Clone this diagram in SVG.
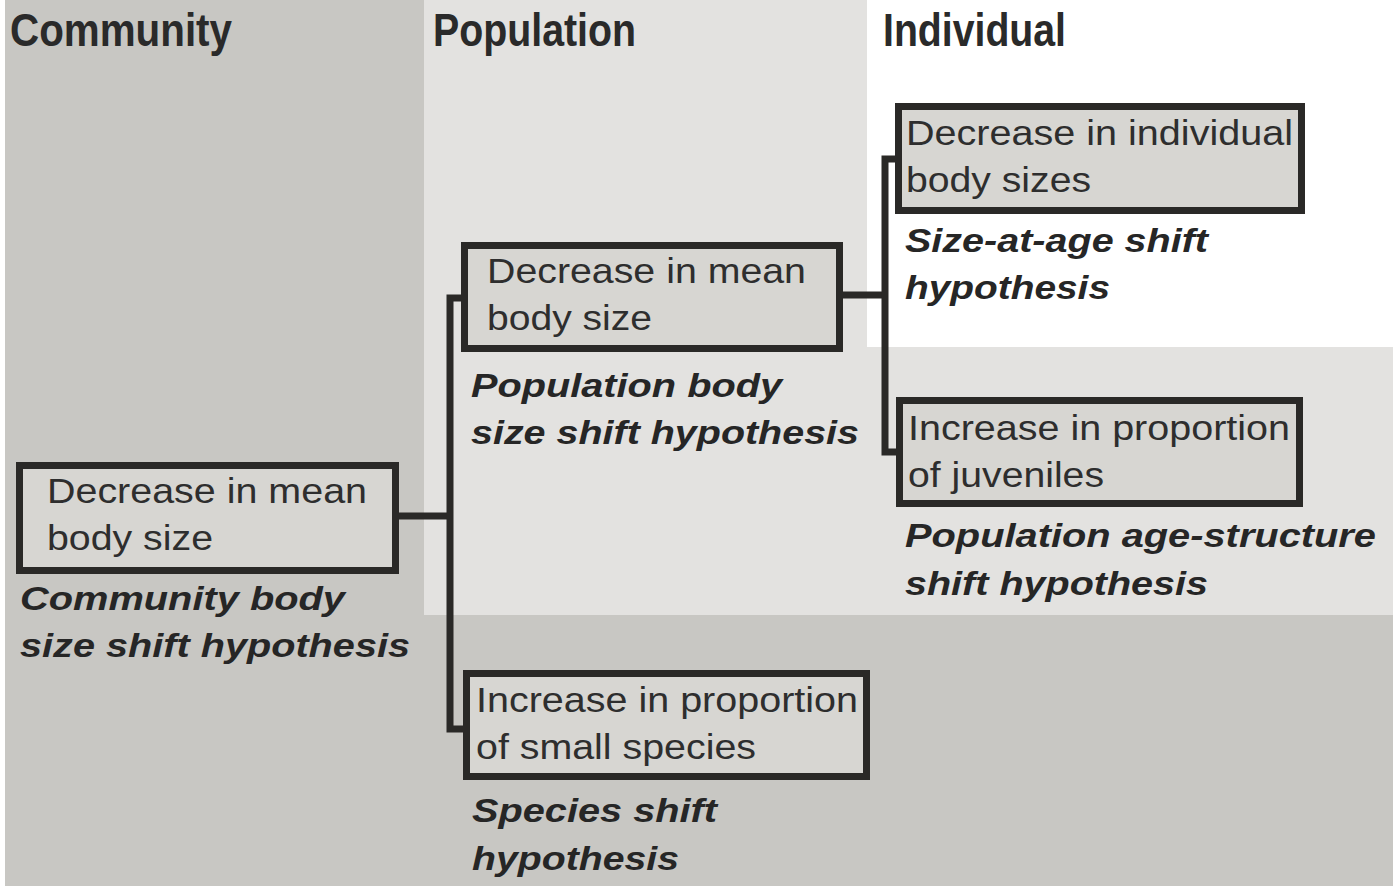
<svg xmlns="http://www.w3.org/2000/svg" width="1393" height="886" viewBox="0 0 1393 886">
<style>
.hdr{font-family:"Liberation Sans",Arial,sans-serif;font-weight:bold;font-size:46px;fill:#2a2a2a}
.txt{font-family:"Liberation Sans",Arial,sans-serif;font-size:35px;fill:#2e2e2e}
.lbl{font-family:"Liberation Sans",Arial,sans-serif;font-weight:bold;font-style:italic;font-size:34px;fill:#262626}
.box{fill:#d7d6d2;stroke:#2a2927;stroke-width:7}
.con{fill:none;stroke:#2a2927;stroke-width:7;stroke-linejoin:miter}
</style>
<g id="background">
<rect x="0" y="0" width="1393" height="886" fill="#ffffff"/>
<rect x="5" y="0" width="1388" height="886" fill="#c8c7c3"/>
<rect x="424" y="0" width="969" height="615" fill="#e3e2e0"/>
<rect x="867" y="0" width="526" height="347" fill="#ffffff"/>
</g>
<g id="headers">
<text class="hdr" x="10" y="46" textLength="222" lengthAdjust="spacingAndGlyphs">Community</text>
<text class="hdr" x="433" y="46" textLength="203" lengthAdjust="spacingAndGlyphs">Population</text>
<text class="hdr" x="883" y="46" textLength="183" lengthAdjust="spacingAndGlyphs">Individual</text>
</g>
<g id="connectors">
<path class="con" d="M399 516 H450"/>
<path class="con" d="M463 298 H450 V729 H465"/>
<path class="con" d="M843 295 H885"/>
<path class="con" d="M897 159 H885 V452 H898"/>
</g>
<g id="node-community">
<rect class="box" x="19.5" y="465.5" width="376" height="105"/>
<text class="txt" x="47" y="503" textLength="320" lengthAdjust="spacingAndGlyphs">Decrease in mean</text>
<text class="txt" x="47" y="550" textLength="166" lengthAdjust="spacingAndGlyphs">body size</text>
<text class="lbl" x="20" y="610" textLength="325" lengthAdjust="spacingAndGlyphs">Community body</text>
<text class="lbl" x="20" y="657" textLength="390" lengthAdjust="spacingAndGlyphs">size shift hypothesis</text>
</g>
<g id="node-population">
<rect class="box" x="464.5" y="245.5" width="375" height="103"/>
<text class="txt" x="487" y="283" textLength="319" lengthAdjust="spacingAndGlyphs">Decrease in mean</text>
<text class="txt" x="487" y="330" textLength="165" lengthAdjust="spacingAndGlyphs">body size</text>
<text class="lbl" x="471" y="397" textLength="311" lengthAdjust="spacingAndGlyphs">Population body</text>
<text class="lbl" x="471" y="444" textLength="388" lengthAdjust="spacingAndGlyphs">size shift hypothesis</text>
</g>
<g id="node-individual">
<rect class="box" x="898.5" y="106.5" width="403" height="104"/>
<text class="txt" x="906" y="145" textLength="387" lengthAdjust="spacingAndGlyphs">Decrease in individual</text>
<text class="txt" x="906" y="192" textLength="185" lengthAdjust="spacingAndGlyphs">body sizes</text>
<text class="lbl" x="905" y="252" textLength="303" lengthAdjust="spacingAndGlyphs">Size-at-age shift</text>
<text class="lbl" x="905" y="299" textLength="205" lengthAdjust="spacingAndGlyphs">hypothesis</text>
</g>
<g id="node-juveniles">
<rect class="box" x="899.5" y="400.5" width="400" height="103"/>
<text class="txt" x="908" y="440" textLength="382" lengthAdjust="spacingAndGlyphs">Increase in proportion</text>
<text class="txt" x="908" y="487" textLength="196" lengthAdjust="spacingAndGlyphs">of juveniles</text>
<text class="lbl" x="905" y="547" textLength="471" lengthAdjust="spacingAndGlyphs">Population age-structure</text>
<text class="lbl" x="905" y="595" textLength="303" lengthAdjust="spacingAndGlyphs">shift hypothesis</text>
</g>
<g id="node-species">
<rect class="box" x="466.5" y="673.5" width="400" height="103"/>
<text class="txt" x="476" y="712" textLength="382" lengthAdjust="spacingAndGlyphs">Increase in proportion</text>
<text class="txt" x="476" y="759" textLength="280" lengthAdjust="spacingAndGlyphs">of small species</text>
<text class="lbl" x="472" y="822" textLength="245" lengthAdjust="spacingAndGlyphs">Species shift</text>
<text class="lbl" x="472" y="870" textLength="207" lengthAdjust="spacingAndGlyphs">hypothesis</text>
</g>
</svg>
